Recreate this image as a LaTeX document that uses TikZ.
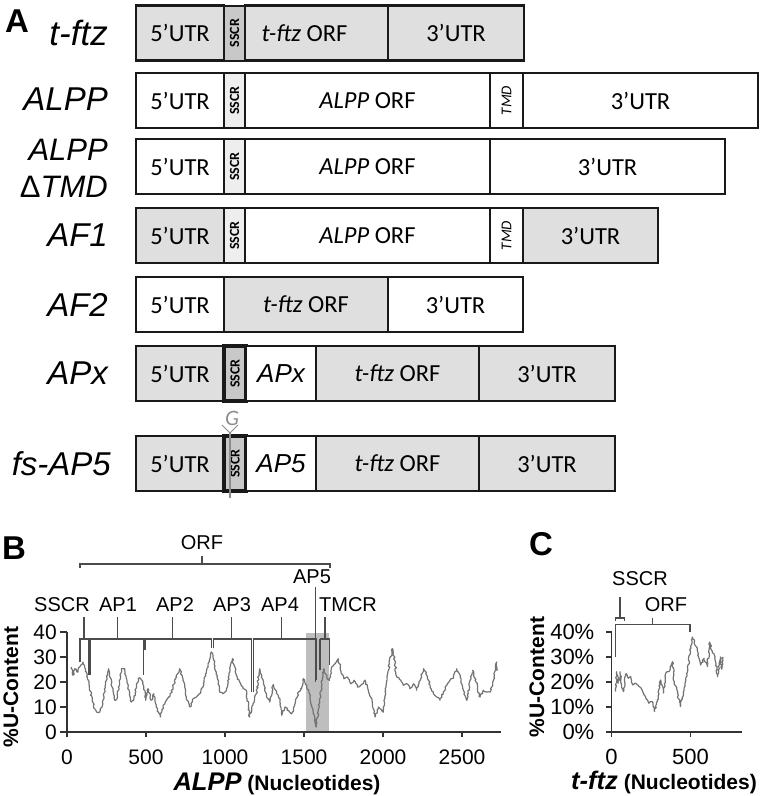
\documentclass[tikz,border=0pt]{standalone}
\usepackage{fontspec}
\setmainfont{Liberation Sans}
\newfontfamily\calibrifont{Carlito}
\usepackage{tikz}
\usetikzlibrary{positioning,decorations.pathmorphing}

\definecolor{utrgray}{RGB}{223,223,223}
\definecolor{sscrgray}{RGB}{200,200,200}
\definecolor{sscrlight}{RGB}{238,238,238}
\definecolor{shadegray}{RGB}{190,190,190}

\newcommand{\fsz}[1]{\fontsize{#1}{#1}\selectfont}
\newcommand{\sscrlab}{\rotatebox{90}{\bfseries\fsz{14}SSCR}}
\newcommand{\tmdlab}{\rotatebox{90}{\itshape\fsz{15}TMD}}

\tikzset{
  seg/.style={draw=black!90, line width=2.6pt, minimum height=55pt, inner sep=0pt,
              outer sep=0pt, anchor=west, font=\calibrifont\fsz{24.5}},
  gseg/.style={seg, fill=utrgray},
  wseg/.style={seg, fill=white},
  rowname/.style={anchor=east, font=\itshape\fsz{33}, inner sep=0pt},
  panel/.style={font=\bfseries\fsz{33}, inner sep=0pt},
  chartlab/.style={font=\fsz{20}, inner sep=0pt},
  ticklab/.style={font=\fsz{21}, inner sep=0pt},
  axisline/.style={line width=1.3pt, black!80},
  brack/.style={line width=1.3pt, black!70},
  ucurve/.style={line width=1.2pt, black!55, line join=round,
                 decorate, decoration={random steps, segment length=1.8pt, amplitude=0.9pt}}
}

\begin{document}
\begin{tikzpicture}[x=1pt, y=-1pt]
    \useasboundingbox (0,0) rectangle (760,796);

    % Panel A: constructs
    \node[panel] (pA) at (17,21) {A};

    % t-ftz
    \node[rowname, font=\itshape\fsz{35}] (n1) at (108,33) {t-ftz};
    \node[gseg, minimum width=88pt] (r1a) at (136,33) {5’UTR};
    \node[gseg, fill=sscrgray, line width=2pt, minimum width=21pt, right=0pt of r1a] (r1b) {\sscrlab};
    \node[gseg, minimum width=143pt, right=0pt of r1b] (r1c) {\textit{t-ftz} ORF\hspace*{24pt}};
    \node[gseg, minimum width=136pt, right=0pt of r1c] (r1d) {3’UTR};

    % ALPP
    \node[rowname] (n2) at (108,99) {ALPP};
    \node[wseg, minimum width=88pt] (r2a) at (136,100.5) {5’UTR};
    \node[wseg, fill=sscrlight, line width=2pt, minimum width=21pt, right=0pt of r2a] (r2b) {\sscrlab};
    \node[wseg, minimum width=245pt, right=0pt of r2b] (r2c) {\textit{ALPP} ORF};
    \node[wseg, line width=2pt, minimum width=33pt, right=0pt of r2c] (r2d) {\tmdlab};
    \node[wseg, minimum width=235pt, right=0pt of r2d] (r2e) {3’UTR};

    % ALPP delta TMD
    \node[rowname, font=\itshape\fontsize{31}{37}\selectfont, align=right] (n3) at (108,168)
        {ALPP\\{\upshape Δ}TMD};
    \node[wseg, minimum width=88pt] (r3a) at (136,166.5) {5’UTR};
    \node[wseg, fill=sscrlight, line width=2pt, minimum width=21pt, right=0pt of r3a] (r3b) {\sscrlab};
    \node[wseg, minimum width=245pt, right=0pt of r3b] (r3c) {\textit{ALPP} ORF};
    \node[wseg, minimum width=235pt, right=0pt of r3c] (r3d) {3’UTR};

    % AF1
    \node[rowname] (n4) at (108,235.5) {AF1};
    \node[gseg, minimum width=88pt] (r4a) at (136,235.5) {5’UTR};
    \node[wseg, fill=sscrlight, line width=2pt, minimum width=21pt, right=0pt of r4a] (r4b) {\sscrlab};
    \node[wseg, minimum width=245pt, right=0pt of r4b] (r4c) {\textit{ALPP} ORF};
    \node[wseg, line width=2pt, minimum width=33pt, right=0pt of r4c] (r4d) {\tmdlab};
    \node[gseg, minimum width=135pt, right=0pt of r4d] (r4e) {3’UTR};

    % AF2
    \node[rowname] (n5) at (108,304.5) {AF2};
    \node[wseg, minimum width=88pt] (r5a) at (136,304.5) {5’UTR};
    \node[gseg, minimum width=164pt, right=0pt of r5a] (r5b) {\textit{t-ftz} ORF};
    \node[wseg, minimum width=135pt, right=0pt of r5b] (r5c) {3’UTR};

    % APx
    \node[rowname] (n6) at (108,373.5) {APx};
    \node[gseg, minimum width=88pt] (r6a) at (136,373.5) {5’UTR};
    \node[gseg, fill=sscrgray, line width=3.4pt, minimum width=22pt, right=0pt of r6a] (r6b) {\sscrlab};
    \node[wseg, minimum width=70pt, right=0pt of r6b, font=\itshape\fsz{26}] (r6c) {APx};
    \node[gseg, minimum width=163pt, right=0pt of r6c] (r6d) {\textit{t-ftz} ORF};
    \node[gseg, minimum width=136pt, right=0pt of r6d] (r6e) {3’UTR};

    % fs-AP5
    \node[rowname] (n7) at (111,463.5) {fs-AP5};
    \node[gseg, minimum width=88pt] (r7a) at (136,463.5) {5’UTR};
    \node[gseg, fill=sscrgray, line width=3.4pt, minimum width=22pt, right=0pt of r7a] (r7b) {\sscrlab};
    \node[wseg, minimum width=70pt, right=0pt of r7b, font=\itshape\fsz{26}] (r7c) {AP5};
    \node[gseg, minimum width=163pt, right=0pt of r7c] (r7d) {\textit{t-ftz} ORF};
    \node[gseg, minimum width=136pt, right=0pt of r7d] (r7e) {3’UTR};

    % inserted G
    \node[font=\calibrifont\itshape\fsz{22}, text=black!45, inner sep=0pt] (gins) at (232,418) {G};
    \coordinate (gtip) at (230,433);
    \draw[black!45, line width=1pt] (222,425) -- (gtip) -- (238,425);
    \draw[black!45, line width=1.2pt] (gtip) -- (230,498);

    % Panel B: ALPP U-content
    \node[panel] (pB) at (14,548) {B};
    \fill[shadegray] (305.7,633.3) rectangle (329.3,732);
    \begin{scope}[shift={(67,732)}, x=0.158pt, y=2.5pt]
        \draw[ucurve] plot[sharp plot] coordinates {
            (27,26) (38,22.7) (49,25.3) (70,24) (80,26) (101,28) (122,24) (139,19.3)
            (154,14.7) (175,9.3) (186,8) (207,8) (228,12.7) (249,20.7) (264,25.3) (281,19.3)
            (302,12.7) (317,13.3) (333,20) (344,25.3) (365,25.3) (386,18) (407,12) (422,12.7)
            (439,19.3) (460,21.7) (481,20) (498,12.7) (513,17.3) (534,12.7) (549,15.3) (565,10)
            (591,6) (608,10) (629,12.7) (650,14) (671,18) (692,22) (713,25.3) (734,20.7)
            (755,14) (781,10) (798,13.3) (819,14) (840,15.3) (861,18) (882,24) (914,32)
            (928,28.7) (945,24) (966,16) (987,15.3) (1009,16.7) (1030,24) (1047,29.3) (1072,22.7)
            (1093,20) (1114,17.3) (1135,16.7) (1156,6) (1177,11.3) (1198,15.3) (1220,25.3) (1241,20.7)
            (1262,14) (1283,12) (1306,19) (1327,16) (1348,12.7) (1359,6.7) (1380,10) (1401,8.7)
            (1422,7.3) (1443,11.3) (1464,16) (1485,17.3) (1496,21.3) (1517,18.7) (1538,14) (1559,7.3)
            (1576,2) (1591,8.7) (1612,19.3) (1623,25.3) (1644,22) (1661,20.7) (1675,26) (1696,27.3)
            (1718,29.3) (1732,24.7) (1753,21.3) (1775,22) (1796,19.3) (1817,20.7) (1838,18) (1859,18.7)
            (1886,20.7) (1907,16.7) (1929,13.3) (1950,6) (1971,10) (2002,8) (2019,18) (2040,27.3)
            (2061,33.3) (2076,27.3) (2087,22) (2112,20.7) (2129,18.7) (2150,19.3) (2171,17.3) (2192,19.3)
            (2213,16.7) (2235,20.7) (2256,25.3) (2277,22.7) (2298,18.7) (2319,15.3) (2340,14) (2361,12.7)
            (2382,16) (2403,18.7) (2424,20.7) (2446,22) (2467,25.3) (2488,22) (2509,16.7) (2530,12.7)
            (2551,20.7) (2568,24.7) (2589,20) (2614,14) (2635,16.7) (2657,16) (2678,16) (2699,20.7)
            (2720,28) (2726,24.7)};
        \foreach \v in {0,10,...,40} {
            \draw[axisline] (0,\v) -- ++(-7pt,0);
            \node[ticklab, anchor=east] (yb\v) at ([xshift=-10pt]0,\v) {\v};
        }
        \foreach \n in {0,500,...,2500} {
            \draw[axisline] (\n,0) -- ++(0,-5pt);
            \node[ticklab] (xb\n) at (\n,-10) {\n};
        }
        \draw[axisline] (0,40) -- (0,0) -- (2747,0);
    \end{scope}
    \node[font=\bfseries\fsz{21}, rotate=90, inner sep=0pt] (ylabB) at (11,687) {\%U-Content};
    \node[font=\bfseries\fsz{21}, inner sep=0pt] (xlabB) at (277,784) {{\itshape\fsz{25.5}ALPP} (Nucleotides)};

    % region brackets
    \node[chartlab] (orfB) at (202,543) {ORF};
    \draw[brack] (80,568) -- (80,564) -- (330,564) -- (330,568);
    \draw[brack] (202,556) -- (202,564);
    \node[chartlab] (sscrB) at (62,605) {SSCR};
    \node[chartlab] (ap1) at (118,605) {AP1};
    \node[chartlab] (ap2) at (175,605) {AP2};
    \node[chartlab] (ap3) at (232,605) {AP3};
    \node[chartlab] (ap4) at (280,605) {AP4};
    \node[chartlab] (ap5) at (312,577) {AP5};
    \node[chartlab] (tmcr) at (348,605) {TMCR};
    \draw[brack] (80,662) -- (80,639) -- (88.5,639) -- (88.5,675);
    \draw[brack] (84,617) -- (84,639);
    \draw[brack] (90,675) -- (90,639) -- (143.3,639) -- (143.3,675);
    \draw[brack] (117.7,617) -- (117.7,639);
    \draw[brack] (145,650) -- (145,639) -- (211.7,639) -- (211.7,648);
    \draw[brack] (172.7,617) -- (172.7,639);
    \draw[brack] (213.3,648) -- (213.3,639) -- (251.7,639) -- (251.7,692);
    \draw[brack] (231.7,617) -- (231.7,639);
    \draw[brack] (253.3,692) -- (253.3,639) -- (316.7,639) -- (316.7,680);
    \draw[brack] (281.7,617) -- (281.7,639);
    \draw[brack] (315.7,587) -- (315.7,682);
    \draw[brack] (319.5,639) -- (319.5,670);
    \draw[brack] (320.5,670) -- (320.5,639) -- (329.3,639) -- (329.3,665);
    \draw[brack] (325,617) -- (325,639);

    % Panel C: t-ftz U-content
    \node[panel] (pC) at (541,544) {C};
    \begin{scope}[shift={(611.5,732)}, x=0.158pt, y=2.5pt]
        \draw[ucurve] plot[sharp plot] coordinates {
            (26,16.2) (32,24.1) (43,19.5) (54,24.1) (64,18.8) (75,16.2) (92,23.4) (107,21.5)
            (122,22.2) (135,18.8) (150,19.6) (172,18.3) (193,16.9) (215,14.2) (236,11.5) (258,12.2)
            (273,8.2) (290,12.8) (311,20.8) (328,15.6) (343,23.5) (365,24.2) (386,28.1) (397,20.1)
            (414,16.9) (436,10.2) (457,16.2) (483,24.8) (500,34) (511,38) (526,36) (543,32.7)
            (564,26.8) (586,29.5) (607,26.2) (622,36) (637,32.4) (655,30.2) (672,22.1) (689,30)
            (697,25.2) (708,30)};
        \foreach \v in {0,10,...,40} {
            \draw[axisline] (0,\v) -- ++(-6pt,0);
            \node[ticklab, font=\fsz{22}, anchor=east] (yc\v) at ([xshift=-17pt]0,\v) {\v\%};
        }
        \foreach \n in {0,500} {
            \draw[axisline] (\n,0) -- ++(0,-5pt);
            \node[ticklab, font=\fsz{22}] (xc\n) at (\n,-10) {\n};
        }
        \draw[axisline] (0,40) -- (0,0) -- (826,0);
    \end{scope}
    \node[font=\bfseries\fsz{21}, rotate=90, inner sep=0pt] (ylabC) at (537,677) {\%U-Content};
    \node[font=\bfseries\fsz{21}, inner sep=0pt] (xlabC) at (664,782) {{\itshape\fsz{25.5}t-ftz} (Nucleotides)};

    \node[chartlab] (sscrC) at (640,579) {SSCR};
    \node[chartlab] (orfC) at (666,605) {ORF};
    \draw[brack] (615.7,621) -- (615.7,618) -- (624.3,618) -- (624.3,621);
    \draw[brack] (620,597) -- (620,618);
    \draw[brack] (615.7,657) -- (615.7,624.3) -- (690,624.3) -- (690,632);
    \draw[brack] (652.7,618) -- (652.7,624.3);
\end{tikzpicture}
\end{document}
